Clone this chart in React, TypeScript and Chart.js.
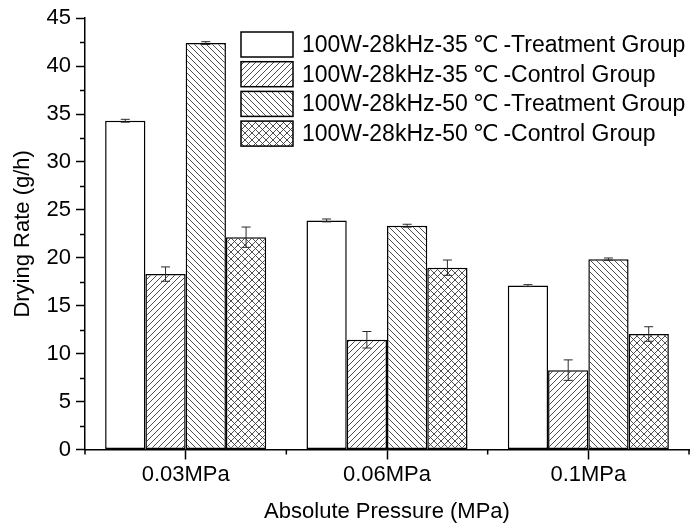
import React, { useEffect, useRef } from 'react';
import { Chart, registerables } from 'chart.js';

Chart.register(...registerables);

const categories = ['0.03MPa', '0.06MPa', '0.1MPa'];
const seriesLabels = [
  '100W-28kHz-35℃-Treatment Group',
  '100W-28kHz-35℃-Control Group',
  '100W-28kHz-50℃-Treatment Group',
  '100W-28kHz-50℃-Control Group',
];
const treat35 = [34.3, 23.9, 17.1];
const control35 = [18.3, 11.45, 8.28];
const treat50 = [42.4, 23.35, 19.86];
const control50 = [22.15, 18.97, 12.05];
const treat35Err = [0.15, 0.15, 0.1];
const control35Err = [0.75, 0.86, 1.07];
const treat50Err = [0.15, 0.15, 0.12];
const control50Err = [1.06, 0.8, 0.76];
const yMin = 0;
const yMax = 45;
const yStep = 5;
const xTitle = 'Absolute Pressure (MPa)';
const yTitle = 'Drying Rate (g/h)';

const FONT = "'Liberation Sans', Arial, 'DejaVu Sans', sans-serif";

type Kind = 'none' | 'fwd' | 'back' | 'cross';

function makePattern(kind: Kind, size: number): CanvasPattern | string {
  if (kind === 'none') return '#ffffff';
  const c = document.createElement('canvas');
  c.width = size;
  c.height = size;
  const ctx = c.getContext('2d')!;
  ctx.fillStyle = '#ffffff';
  ctx.fillRect(0, 0, size, size);
  ctx.strokeStyle = '#3c3c3c';
  ctx.lineWidth = 0.9;
  const fwd = () => {
    ctx.beginPath();
    ctx.moveTo(-1, size + 1);
    ctx.lineTo(size + 1, -1);
    ctx.moveTo(-1, 1);
    ctx.lineTo(1, -1);
    ctx.moveTo(size - 1, size + 1);
    ctx.lineTo(size + 1, size - 1);
    ctx.stroke();
  };
  const back = () => {
    ctx.beginPath();
    ctx.moveTo(-1, -1);
    ctx.lineTo(size + 1, size + 1);
    ctx.moveTo(size - 1, -1);
    ctx.lineTo(size + 1, 1);
    ctx.moveTo(-1, size - 1);
    ctx.lineTo(1, size + 1);
    ctx.stroke();
  };
  if (kind === 'fwd') fwd();
  if (kind === 'back') back();
  if (kind === 'cross') {
    fwd();
    back();
  }
  return ctx.createPattern(c, 'repeat')!;
}

const errorBarPlugin = {
  id: 'errorBars',
  afterDatasetsDraw(chart: any) {
    const ctx = chart.ctx;
    const yScale = chart.scales.y;
    chart.data.datasets.forEach((ds: any, i: number) => {
      const meta = chart.getDatasetMeta(i);
      meta.data.forEach((bar: any, j: number) => {
        const v = ds.data[j];
        const e = ds.errors[j];
        const x = bar.x;
        const yt = yScale.getPixelForValue(v + e);
        const yb = yScale.getPixelForValue(v - e);
        const cap = 4.5;
        ctx.save();
        ctx.strokeStyle = '#2a2a2a';
        ctx.lineWidth = 1;
        ctx.beginPath();
        ctx.moveTo(x, yt);
        ctx.lineTo(x, yb);
        ctx.moveTo(x - cap, yt);
        ctx.lineTo(x + cap, yt);
        ctx.moveTo(x - cap, yb);
        ctx.lineTo(x + cap, yb);
        ctx.stroke();
        ctx.restore();
      });
    });
  },
};

const minorTickPlugin = {
  id: 'minorTicks',
  afterDraw(chart: any) {
    const ctx = chart.ctx;
    const y = chart.scales.y;
    const x = chart.scales.x;
    const area = chart.chartArea;
    ctx.save();
    ctx.strokeStyle = '#000';
    ctx.lineWidth = 1.5;
    ctx.beginPath();
    for (let v = yMin + yStep / 2; v < yMax; v += yStep) {
      const py = Math.round(y.getPixelForValue(v)) + 0.5;
      ctx.moveTo(area.left - 5, py);
      ctx.lineTo(area.left, py);
    }
    const n = categories.length;
    for (let i = 0; i <= n; i++) {
      let px: number;
      if (i === 0) px = area.left;
      else if (i === n) px = area.right;
      else px = (x.getPixelForValue(i - 1) + x.getPixelForValue(i)) / 2;
      ctx.moveTo(px, area.bottom);
      ctx.lineTo(px, area.bottom + 5);
    }
    ctx.stroke();
    ctx.restore();
  },
};

const legendPlugin = {
  id: 'customLegend',
  afterDraw(chart: any) {
    const ctx = chart.ctx;
    const opts = chart.options.plugins.customLegend;
    ctx.save();
    ctx.font = `${opts.fontSize}px ${FONT}`;
    ctx.textBaseline = 'middle';
    ctx.textAlign = 'left';
    const cell = opts.fontSize * opts.symbolCell;
    chart.data.datasets.forEach((ds: any, i: number) => {
      const top = opts.top + i * opts.pitch;
      ctx.fillStyle = ds.backgroundColor;
      ctx.fillRect(opts.left, top, opts.boxW, opts.boxH);
      ctx.strokeStyle = '#000';
      ctx.lineWidth = 1.5;
      ctx.strokeRect(opts.left, top, opts.boxW, opts.boxH);
      ctx.fillStyle = '#000';
      const cy = top + opts.boxH / 2 + 1;
      const parts = String(ds.label).split('℃');
      let x = opts.textX;
      parts.forEach((p: string, k: number) => {
        ctx.fillText(p, x, cy);
        x += ctx.measureText(p).width;
        if (k < parts.length - 1) {
          const w = ctx.measureText('℃').width;
          ctx.fillText('℃', x + (cell - w) / 2, cy);
          x += cell;
        }
      });
    });
    ctx.restore();
  },
};

export default function App() {
  const ref = useRef<HTMLCanvasElement | null>(null);

  useEffect(() => {
    if (!ref.current) return;
    const kinds: Kind[] = ['none', 'fwd', 'back', 'cross'];
    const sizes = [6, 6, 6, 7];
    const values = [treat35, control35, treat50, control50];
    const errs = [treat35Err, control35Err, treat50Err, control50Err];
    const datasets = values.map((d, i) => ({
      label: seriesLabels[i],
      data: d,
      errors: errs[i],
      backgroundColor: makePattern(kinds[i], sizes[i]),
      borderColor: '#000',
      borderWidth: 1.5,
      borderSkipped: false as any,
      categoryPercentage: 0.8,
      barPercentage: 1.0,
    }));

    Chart.defaults.color = '#000';
    const chart = new Chart(ref.current, {
      type: 'bar',
      data: { labels: categories, datasets: datasets as any },
      options: {
        animation: false,
        responsive: false,
        devicePixelRatio: 1,
        layout: { padding: { top: 16, right: 2, left: 0, bottom: 0 } },
        plugins: {
          legend: { display: false },
          tooltip: { enabled: false },
          customLegend: {
            left: 241,
            top: 32,
            pitch: 29.7,
            boxW: 52,
            boxH: 25,
            textX: 302,
            fontSize: 23,
            symbolCell: 1.55,
          },
        } as any,
        scales: {
          x: {
            type: 'category',
            offset: true,
            grid: {
              display: true,
              drawOnChartArea: false,
              drawTicks: true,
              tickLength: 10,
              offset: false,
              tickColor: '#000',
              tickWidth: 1.5,
            },
            border: { display: true, color: '#000', width: 1.5 },
            ticks: {
              font: { family: FONT, size: 22 },
              color: '#000',
              padding: 2,
              autoSkip: false,
              maxRotation: 0,
            },
            title: {
              display: true,
              text: xTitle,
              font: { family: FONT, size: 22 },
              color: '#000',
              padding: { top: 0, bottom: 0 },
            },
            afterFit: (s: any) => {
              s.height = 75.5;
            },
          },
          y: {
            min: yMin,
            max: yMax,
            grid: {
              display: true,
              drawOnChartArea: false,
              drawTicks: true,
              tickLength: 9,
              tickColor: '#000',
              tickWidth: 1.5,
            },
            border: { display: true, color: '#000', width: 1.5 },
            ticks: {
              stepSize: yStep,
              font: { family: FONT, size: 22 },
              color: '#000',
              padding: 5,
            },
            title: {
              display: true,
              text: yTitle,
              font: { family: FONT, size: 22 },
              color: '#000',
              padding: { top: 10, bottom: 0 },
            },
            afterFit: (s: any) => {
              s.width = 85;
            },
          },
        },
      },
      plugins: [errorBarPlugin, minorTickPlugin, legendPlugin],
    });
    return () => chart.destroy();
  }, []);

  return (
    <div style={{ position: 'fixed', left: 0, top: 0, width: 691, height: 525, background: '#fff' }}>
      <canvas ref={ref} width={691} height={525} style={{ display: 'block' }} />
    </div>
  );
}
